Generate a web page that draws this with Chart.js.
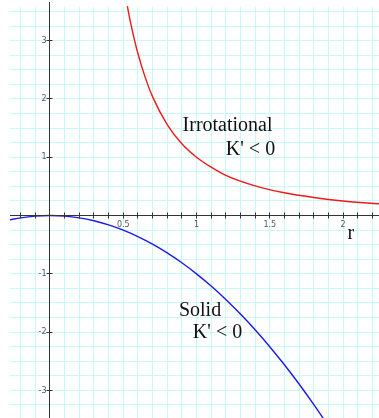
<!DOCTYPE html>
<html>
<head>
<meta charset="utf-8">
<script src="https://cdn.jsdelivr.net/npm/chart.js@4/dist/chart.umd.min.js"></script>
<style>
html,body{margin:0;padding:0;background:#fff;}
#wrap{position:relative;width:379px;height:418px;}
</style>
</head>
<body>
<div id="wrap"><canvas id="c" width="379" height="418"></canvas></div>
<script>
// Irrotational (red) curve
const rIrrot = [0.528, 0.55, 0.6, 0.65, 0.7, 0.8, 0.9, 1.0, 1.1, 1.2, 1.4, 1.6, 1.8, 2.0, 2.25];
const vIrrot = [3.59, 3.31, 2.78, 2.37, 2.04, 1.56, 1.23, 1.00, 0.83, 0.69, 0.51, 0.39, 0.31, 0.25, 0.20];
// Solid (blue) curve
const rSolid = [-0.28, -0.2, -0.1, 0, 0.1, 0.2, 0.3, 0.4, 0.5, 0.6, 0.7, 0.8, 0.9, 1.0, 1.1, 1.2, 1.3, 1.4, 1.5, 1.6, 1.7, 1.8, 1.9];
const vSolid = [-0.078, -0.04, -0.01, 0, -0.01, -0.04, -0.09, -0.16, -0.25, -0.36, -0.49, -0.64, -0.81, -1.0, -1.21, -1.44, -1.69, -1.96, -2.25, -2.56, -2.89, -3.24, -3.61];
// Axis tick labels
const xTickLabels = [0.5, 1, 1.5, 2];
const yTickLabels = [-3, -2, -1, 1, 2, 3];
// Text annotations
const annotations = [
  {text: 'Irrotational', x: 0.905, y: 1.45},
  {text: "K' < 0", x: 1.2, y: 1.04},
  {text: 'Solid', x: 0.88, y: -1.72},
  {text: "K' < 0", x: 0.975, y: -2.1},
  {text: 'r', x: 2.03, y: -0.41}
];

const toXY = (xs, ys) => xs.map((x, i) => ({x: x, y: ys[i]}));

const gridPlugin = {
  id: 'customGrid',
  beforeDatasetsDraw(chart) {
    const ctx = chart.ctx;
    const xs = chart.scales.x, ys = chart.scales.y;
    const ca = chart.chartArea;
    ctx.save();
    ctx.strokeStyle = '#c8f8f8';
    ctx.lineWidth = 1;
    ctx.beginPath();
    for (let i = -2; i <= 22; i++) {
      const px = Math.floor(xs.getPixelForValue(i / 10)) + 0.5;
      ctx.moveTo(px, ca.top); ctx.lineTo(px, ca.bottom);
    }
    for (let j = -13; j <= 14; j++) {
      const py = Math.floor(ys.getPixelForValue(j / 4)) + 0.5;
      ctx.moveTo(ca.left, py); ctx.lineTo(ca.right, py);
    }
    ctx.stroke();
    ctx.restore();
  }
};

const axesPlugin = {
  id: 'customAxes',
  afterDatasetsDraw(chart) {
    const ctx = chart.ctx;
    const xs = chart.scales.x, ys = chart.scales.y;
    const ca = chart.chartArea;
    const x0 = Math.floor(xs.getPixelForValue(0)) + 0.5;
    const y0 = Math.floor(ys.getPixelForValue(0)) + 0.5;
    ctx.save();
    ctx.strokeStyle = '#333';
    ctx.lineWidth = 1;
    ctx.beginPath();
    ctx.moveTo(ca.left, y0); ctx.lineTo(ca.right, y0);
    ctx.moveTo(x0, 2); ctx.lineTo(x0, ca.bottom);
    ctx.stroke();
    ctx.beginPath();
    for (let i = -2; i <= 22; i++) {
      if (i === 0) continue;
      const px = Math.floor(xs.getPixelForValue(i / 10)) + 0.5;
      ctx.moveTo(px, y0 - 3); ctx.lineTo(px, y0 + 3);
    }
    for (const v of yTickLabels) {
      const py = Math.floor(ys.getPixelForValue(v)) + 0.5;
      ctx.moveTo(x0 - 3, py); ctx.lineTo(x0 + 3, py);
    }
    ctx.stroke();
    ctx.fillStyle = '#555';
    ctx.font = '8px "DejaVu Sans", sans-serif';
    ctx.textAlign = 'center';
    ctx.textBaseline = 'middle';
    for (const v of xTickLabels) {
      ctx.fillText(String(v), xs.getPixelForValue(v), y0 + 9);
    }
    ctx.textAlign = 'right';
    for (const v of yTickLabels) {
      ctx.fillText(String(v), x0 - 3, ys.getPixelForValue(v));
    }
    ctx.fillStyle = '#111';
    ctx.font = '20px "Liberation Serif", "DejaVu Serif", serif';
    ctx.textAlign = 'left';
    ctx.textBaseline = 'alphabetic';
    for (const a of annotations) {
      ctx.fillText(a.text, xs.getPixelForValue(a.x), ys.getPixelForValue(a.y));
    }
    ctx.restore();
  }
};

new Chart(document.getElementById('c'), {
  type: 'scatter',
  data: {
    datasets: [
      {label: 'Irrotational', data: toXY(rIrrot, vIrrot), showLine: true, borderColor: '#f01818', borderWidth: 1.4, pointRadius: 0, cubicInterpolationMode: 'monotone', clip: {left: 0, top: 3, right: 0, bottom: 0}},
      {label: 'Solid', data: toXY(rSolid, vSolid), showLine: true, borderColor: '#1a1af0', borderWidth: 1.4, pointRadius: 0, cubicInterpolationMode: 'monotone'}
    ]
  },
  options: {
    responsive: false,
    animation: false,
    layout: {padding: {left: 10, top: 7, right: 0, bottom: 0}},
    plugins: {legend: {display: false}, tooltip: {enabled: false}},
    scales: {
      x: {
        type: 'linear', min: -0.273, max: 2.2457,
        ticks: {display: false},
        grid: {display: false, drawTicks: false},
        border: {display: false}
      },
      y: {
        type: 'linear', min: -3.473, max: 3.577,
        ticks: {display: false},
        grid: {display: false, drawTicks: false},
        border: {display: false}
      }
    }
  },
  plugins: [gridPlugin, axesPlugin]
});
</script>
</body>
</html>
